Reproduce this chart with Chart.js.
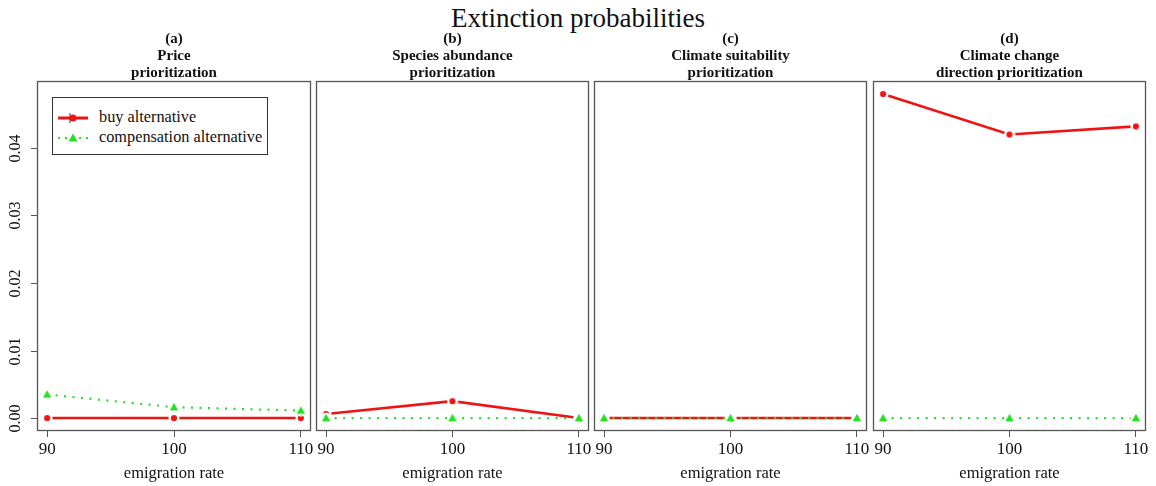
<!DOCTYPE html>
<html>
<head>
<meta charset="utf-8">
<script src="https://cdn.jsdelivr.net/npm/chart.js@4.4.1/dist/chart.umd.min.js"></script>
<style>
  html, body { margin: 0; padding: 0; background: #fff; }
  #wrap { position: relative; width: 1156px; height: 486px; overflow: hidden; font-family: "Liberation Serif", "DejaVu Serif", serif; color: #111; }
  #wrap canvas { position: absolute; top: 0; }
  .main-title { position: absolute; left: 0; top: 2px; width: 1156px; text-align: center; font-size: 27px; line-height: 32px; }
  .ptitle { position: absolute; top: 30px; text-align: center; font-weight: bold; font-size: 15px; line-height: 17px; }
  .legend { position: absolute; left: 52px; top: 97px; width: 216px; height: 58px; border: 1px solid #333; background: #fff; box-sizing: border-box; font-size: 16.3px; }
  .legend .row { position: absolute; left: 4px; height: 20px; line-height: 20px; white-space: nowrap; }
  .legend svg { vertical-align: middle; margin-right: 10px; }
</style>
</head>
<body>
<div id="wrap">
  <div class="main-title">Extinction probabilities</div>
</div>
<script>
/* ── dati ── */
const emigration = [90, 100, 110];
const yTicks = [0, 0.01, 0.02, 0.03, 0.04];
const panelLetters = ['(a)', '(b)', '(c)', '(d)'];
const panelNames = [['Price', 'prioritization'], ['Species abundance', 'prioritization'],
  ['Climate suitability', 'prioritization'], ['Climate change', 'direction prioritization']];
const buyA = [0, 0, 0];
const compA = [0.0035, 0.0016, 0.0011];
const buyB = [0.0006, 0.0025, 0];
const compB = [0, 0, 0];
const buyC = [0, 0, 0];
const compC = [0, 0, 0];
const buyD = [0.048, 0.042, 0.0432];
const compD = [0, 0, 0];
const seriesNames = ['buy alternative', 'compensation alternative'];

const RED = '#ee1414', GREEN = '#22e022', SERIF = '"Liberation Serif", "DejaVu Serif", serif';
const BOX_TOP = 81, BOX_BOT = 431, H = 486;
const boxes = [[37, 311], [316, 589], [594, 867], [873, 1146]];
const buyData = [buyA, buyB, buyC, buyD];
const compData = [compA, compB, compC, compD];

// punti stile R type="b": alone bianco che interrompe la linea
function mkPoint(kind) {
  const c = document.createElement('canvas');
  c.width = 12; c.height = 12;
  const g = c.getContext('2d');
  g.fillStyle = '#fff';
  g.beginPath(); g.arc(6, 6, 5.5, 0, Math.PI * 2); g.fill();
  if (kind === 'circle') {
    g.fillStyle = RED;
    g.beginPath(); g.arc(6, 6, 3.1, 0, Math.PI * 2); g.fill();
  } else {
    g.fillStyle = GREEN;
    g.beginPath(); g.moveTo(6, 1.8); g.lineTo(10.2, 9.2); g.lineTo(1.8, 9.2); g.closePath(); g.fill();
  }
  return c;
}
const ptRed = mkPoint('circle');
const ptGreen = mkPoint('tri');

const boxPlugin = {
  id: 'boxPlugin',
  afterDraw(chart) {
    const a = chart.chartArea, ctx = chart.ctx;
    ctx.save();
    ctx.strokeStyle = '#555';
    ctx.lineWidth = 1.3;
    ctx.strokeRect(a.left + 0.5, a.top + 0.5, a.right - a.left - 1, a.bottom - a.top - 1);
    ctx.restore();
  }
};

const yAxisPlugin = {
  id: 'yAxisPlugin',
  afterDraw(chart) {
    const ctx = chart.ctx, ys = chart.scales.y, left = chart.chartArea.left;
    ctx.save();
    ctx.strokeStyle = '#555';
    ctx.lineWidth = 1;
    ctx.fillStyle = '#111';
    ctx.font = '16px ' + SERIF;
    ctx.textAlign = 'center';
    ctx.textBaseline = 'middle';
    yTicks.forEach(v => {
      const y = Math.round(ys.getPixelForValue(v)) + 0.5;
      ctx.beginPath(); ctx.moveTo(left - 6, y); ctx.lineTo(left, y); ctx.stroke();
      ctx.save();
      ctx.translate(16, y);
      ctx.rotate(-Math.PI / 2);
      ctx.fillText(v.toFixed(2), 0, 0);
      ctx.restore();
    });
    ctx.restore();
  }
};

const wrap = document.getElementById('wrap');

boxes.forEach((bx, i) => {
  const padL = 37, padR = 14;
  const cv = document.createElement('canvas');
  const w = bx[1] - bx[0] + padL + padR;
  cv.width = w; cv.height = H;
  cv.style.left = (bx[0] - padL) + 'px';
  cv.style.width = w + 'px'; cv.style.height = H + 'px';
  wrap.appendChild(cv);

  const t = document.createElement('div');
  t.className = 'ptitle';
  t.style.left = (bx[0] - 20) + 'px';
  t.style.width = (bx[1] - bx[0] + 40) + 'px';
  t.innerHTML = panelLetters[i] + '<br>' + panelNames[i][0] + '<br>' + panelNames[i][1];
  wrap.appendChild(t);

  new Chart(cv, {
    type: 'line',
    data: {
      datasets: [
        { label: seriesNames[0], data: emigration.map((x, k) => ({ x, y: buyData[i][k] })),
          borderColor: RED, borderWidth: 2.6, pointStyle: ptRed, pointRadius: 6, order: 1, tension: 0 },
        { label: seriesNames[1], data: emigration.map((x, k) => ({ x, y: compData[i][k] })),
          borderColor: GREEN, borderWidth: 2.2, borderDash: [2, 6.5], pointStyle: ptGreen, pointRadius: 6, order: 0, tension: 0 }
      ]
    },
    options: {
      responsive: false, animation: false, devicePixelRatio: 1,
      layout: { padding: { top: BOX_TOP, left: padL, right: padR, bottom: 0 } },
      plugins: { legend: { display: false }, tooltip: { enabled: false } },
      scales: {
        x: {
          type: 'linear', min: 89.2, max: 110.8,
          afterBuildTicks: s => { s.ticks = emigration.map(v => ({ value: v })); },
          afterFit: s => { s.height = H - BOX_BOT; },
          border: { display: false },
          grid: { drawOnChartArea: false, drawTicks: true, tickLength: 6, color: '#555' },
          ticks: { color: '#111', font: { family: SERIF, size: 17 }, padding: 2, maxRotation: 0, callback: v => String(v) },
          title: { display: true, text: 'emigration rate', color: '#111', font: { family: SERIF, size: 16.5 }, padding: { top: 0, bottom: 2 } }
        },
        y: { display: false, min: -0.00192, max: 0.04992 }
      }
    },
    plugins: i === 0 ? [boxPlugin, yAxisPlugin] : [boxPlugin]
  });
});

// legenda (pannello a)
const lg = document.createElement('div');
lg.className = 'legend';
lg.innerHTML =
  '<div class="row" style="top:9px"><svg width="32" height="12"><line x1="1" y1="6" x2="31" y2="6" stroke="' + RED + '" stroke-width="3"/>' +
  '<line x1="13" y1="1" x2="13" y2="11" stroke="#333" stroke-width="1"/><circle cx="16" cy="6" r="3.5" fill="' + RED + '"/></svg>' + seriesNames[0] + '</div>' +
  '<div class="row" style="top:29px"><svg width="32" height="12"><line x1="1" y1="6" x2="31" y2="6" stroke="' + GREEN + '" stroke-width="2" stroke-dasharray="2 5"/>' +
  '<polygon points="16,1.5 20.5,9.5 11.5,9.5" fill="' + GREEN + '"/></svg>' + seriesNames[1] + '</div>';
wrap.appendChild(lg);
</script>
</body>
</html>
